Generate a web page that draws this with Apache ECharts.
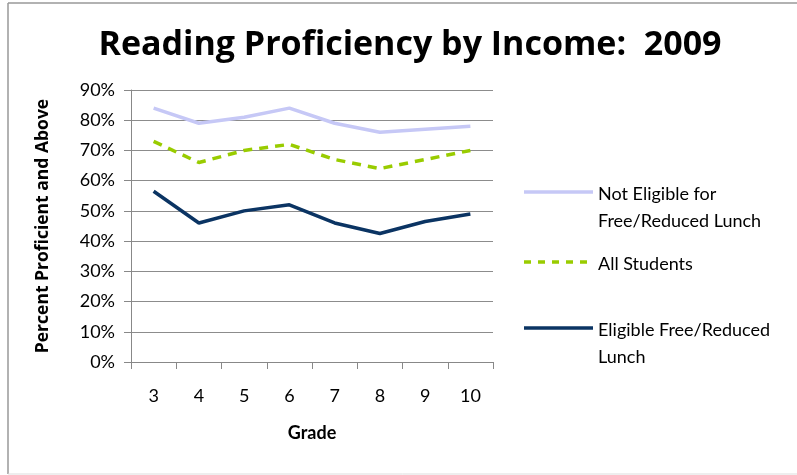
<!DOCTYPE html>
<html>
<head>
<meta charset="utf-8">
<script src="https://cdn.jsdelivr.net/npm/echarts@6/dist/echarts.min.js"></script>
<style>
  html, body { margin: 0; padding: 0; background: #fff; }
  #chart { width: 797px; height: 475px; }
</style>
</head>
<body>
<div id="chart"></div>
<script>
// Grades on the x axis
const grades = ['3', '4', '5', '6', '7', '8', '9', '10'];

// Percent proficient and above, by group
const notEligible = [84, 79, 81, 84, 79, 76, 77, 78];
const allStudents = [73, 66, 70, 72, 67, 64, 67, 70];
const eligible = [56.5, 46, 50, 52, 46, 42.5, 46.5, 49];

// Legend labels (shown wrapped on the right)
const legendLines = [
  ['Not Eligible for', 'Free/Reduced Lunch'],
  ['All Students'],
  ['Eligible Free/Reduced', 'Lunch']
];

const seriesNames = ['Not Eligible for Free/Reduced Lunch', 'All Students', 'Eligible Free/Reduced Lunch'];
const seriesColors = ['#c6c8f6', '#99cc00', '#0b3463'];
const seriesTypes = ['solid', [9, 7], 'solid'];
const seriesData = [notEligible, allStudents, eligible];

const FONT = 'Lato, "Open Sans", sans-serif';
const WIDE = '"Open Sans", Lato, sans-serif';
const chart = echarts.init(document.getElementById('chart'), null, { renderer: 'canvas' });

// Legend drawn at the right: a line sample plus wrapped text for each series
const legendTops = [192, 262, 328];
const legendGraphics = [];
legendLines.forEach((lines, i) => {
  legendGraphics.push({
    type: 'line',
    shape: { x1: 524, y1: legendTops[i], x2: 593, y2: legendTops[i] },
    style: { stroke: seriesColors[i], lineWidth: 3.5, lineDash: i === 1 ? [7, 7] : null }
  });
  lines.forEach((t, j) => {
    legendGraphics.push({
      type: 'text',
      x: 598,
      y: legendTops[i] + 2 + j * 27,
      style: { text: t, font: '18px ' + FONT, fill: '#000', textVerticalAlign: 'middle', verticalAlign: 'middle' }
    });
  });
});

chart.setOption({
  animation: false,
  backgroundColor: '#fff',
  title: {
    text: 'Reading Proficiency by Income:  2009',
    left: 405,
    textAlign: 'center',
    top: 23,
    textStyle: { fontFamily: WIDE, fontWeight: 'bold', fontSize: 34, color: '#000' }
  },
  grid: { left: 131, right: 304, top: 90, bottom: 113 },
  xAxis: {
    type: 'category',
    data: grades,
    boundaryGap: true,
    name: 'Grade',
    nameLocation: 'middle',
    nameGap: 62,
    nameTextStyle: { fontFamily: FONT, fontWeight: 'bold', fontSize: 18, color: '#000' },
    axisLine: { lineStyle: { color: '#888', width: 1 } },
    axisTick: { show: true, length: 7, alignWithLabel: false, lineStyle: { color: '#888' } },
    axisLabel: { fontFamily: FONT, fontSize: 18, color: '#000', margin: 25 }
  },
  yAxis: {
    type: 'value',
    min: 0,
    max: 90,
    interval: 10,
    name: 'Percent Proficient and Above',
    nameLocation: 'middle',
    nameGap: 79,
    nameTextStyle: { fontFamily: WIDE, fontWeight: 'bold', fontSize: 17.5, color: '#000' },
    axisLine: { show: true, lineStyle: { color: '#888', width: 1 } },
    axisTick: { show: true, length: 7, lineStyle: { color: '#888' } },
    axisLabel: { fontFamily: FONT, fontSize: 18, color: '#000', margin: 16, formatter: v => v + '%' },
    splitLine: { show: true, lineStyle: { color: '#8c8c8c', width: 1 } }
  },
  series: seriesData.map((d, i) => ({
    name: seriesNames[i],
    type: 'line',
    data: d,
    symbol: 'none',
    lineStyle: { color: seriesColors[i], width: 3.5, type: seriesTypes[i] },
    z: 3 - i
  })),
  graphic: [
    // outer frame
    { type: 'line', shape: { x1: 8, y1: 3, x2: 797, y2: 3 }, style: { stroke: '#999', lineWidth: 1.5 } },
    { type: 'line', shape: { x1: 8, y1: 3, x2: 8, y2: 474 }, style: { stroke: '#999', lineWidth: 1.5 } },
    { type: 'line', shape: { x1: 8, y1: 474, x2: 797, y2: 474 }, style: { stroke: '#ddd', lineWidth: 1 } }
  ].concat(legendGraphics)
});
</script>
</body>
</html>
